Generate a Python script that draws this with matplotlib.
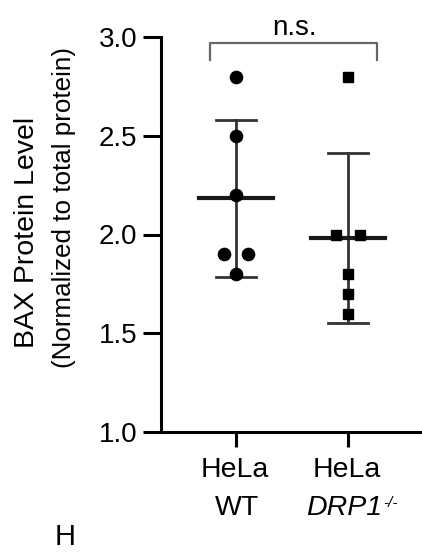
import numpy as np
import matplotlib
matplotlib.use("Agg")
import matplotlib.pyplot as plt

plt.rcParams['font.family'] = ['Liberation Sans', 'DejaVu Sans']

categories_top = ["HeLa", "HeLa"]
categories_bottom = ["WT", "DRP1"]
superscript = "-/-"
wt_values = [2.8, 2.5, 2.2, 1.9, 1.9, 1.8]
drp1_values = [2.8, 2.0, 2.0, 1.8, 1.7, 1.6]
wt_offsets = [0, 0, 0, -0.105, 0.105, 0]
drp1_offsets = [0, -0.104, 0.104, 0, 0, 0]
yticks = [1.0, 1.5, 2.0, 2.5, 3.0]
ylabel_1 = "BAX Protein Level"
ylabel_2 = "(Normalized to total protein)"
sig_text = "n.s."

W, H = 422, 553
fig = plt.figure(figsize=(W/100, H/100), dpi=100)
ax = fig.add_axes([161/W, 1-432/H, 1-161/W, (432-37)/H])

groups = [(wt_values, wt_offsets, 'o', 8.8), (drp1_values, drp1_offsets, 's', 7.4)]
for i, (vals, offs, mk, ms) in enumerate(groups):
    x0 = i + 1
    v = np.array(vals)
    m = v.mean()
    sd = v.std(ddof=1)
    ec = '#333333'
    ax.plot([x0, x0], [m - sd, m + sd], color=ec, lw=2.0, zorder=2)
    ax.plot([x0 - 0.18, x0 + 0.18], [m + sd, m + sd], color=ec, lw=2.0, zorder=2)
    ax.plot([x0 - 0.18, x0 + 0.18], [m - sd, m - sd], color=ec, lw=2.0, zorder=2)
    ax.plot([x0 - 0.33, x0 + 0.33], [m, m], color='#1a1a1a', lw=3.0, zorder=2)
    ax.plot(x0 + np.array(offs), v, linestyle='none', marker=mk, ms=ms,
            color='black', zorder=3)

# significance bracket
bx = [0.77, 0.77, 2.26, 2.26]
by = [2.885, 2.97, 2.97, 2.885]
ax.plot(bx, by, color='#666666', lw=1.6, clip_on=False)
ax.annotate(sig_text, xy=(1.525, 2.97), xytext=(0, 8), textcoords='offset pixels',
            ha='center', va='baseline', fontsize=20, annotation_clip=False)

ax.set_xlim(0.33, 2.66)
ax.set_ylim(1.0, 3.0)
ax.set_yticks(yticks)
ax.set_yticklabels([f"{t:.1f}" for t in yticks], fontsize=20)
ax.set_xticks([1, 2])
ax.set_xticklabels(["", ""])

# x category labels (two lines each)
for i in range(2):
    x0 = i + 1
    ax.annotate(categories_top[i], xy=(x0, 0), xycoords=('data', 'axes fraction'),
                xytext=(-1, -45), textcoords='offset pixels', ha='center',
                va='baseline', fontsize=20.5, annotation_clip=False)
ax.annotate(categories_bottom[0], xy=(1, 0), xycoords=('data', 'axes fraction'),
            xytext=(1, -83), textcoords='offset pixels', ha='center',
            va='baseline', fontsize=20.5, annotation_clip=False)
drp = ax.annotate(categories_bottom[1], xy=(2, 0), xycoords=('data', 'axes fraction'),
                  xytext=(-4, -83), textcoords='offset pixels', ha='center',
                  va='baseline', fontsize=20.5, style='italic', annotation_clip=False)
ax.annotate(superscript, xy=(1, 1), xycoords=drp, xytext=(1, -1),
            textcoords='offset pixels', ha='left', va='top', fontsize=11,
            style='italic', annotation_clip=False)

for s in ['top', 'right']:
    ax.spines[s].set_visible(False)
for s in ['left', 'bottom']:
    ax.spines[s].set_linewidth(2.2)
ax.tick_params(axis='y', length=13, width=2.2, pad=4)
ax.tick_params(axis='x', length=11, width=2.2)

fig.text(27/W, 1-232/H, ylabel_1, rotation=90, fontsize=20.5, ha='center', va='center')
fig.text(64/W, 1-208/H, ylabel_2, rotation=90, fontsize=18.7, ha='center', va='center')

fig.text(65/W, 1-537/H, "H", fontsize=21, ha='center', va='center')

fig.savefig("out.png", dpi=100)
